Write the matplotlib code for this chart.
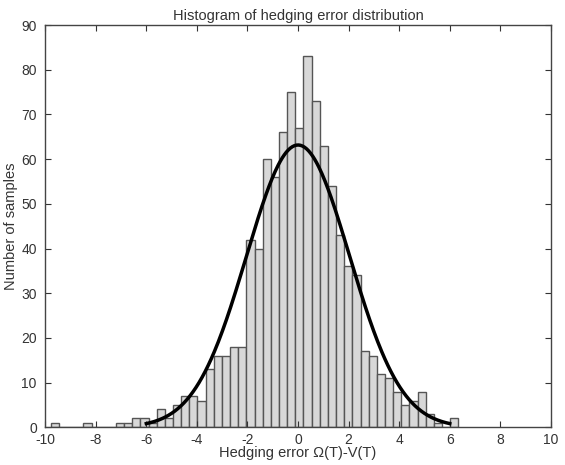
import matplotlib
matplotlib.use("Agg")
import matplotlib.pyplot as plt
import numpy as np

plt.rcParams["font.family"] = ["Liberation Sans", "DejaVu Sans"]
plt.rcParams["axes.unicode_minus"] = False

# histogram: 50 equal bins between the smallest and largest sample
BIN_LO = -9.78
BIN_HI = 6.34
COUNTS = [1, 0, 0, 0, 1, 0, 0, 0, 1, 1,
          2, 2, 1, 4, 2, 5, 7, 7, 6, 13,
          16, 16, 18, 18, 42, 40, 60, 56, 66, 75,
          67, 83, 73, 63, 54, 43, 36, 34, 17, 16,
          12, 11, 8, 5, 6, 8, 3, 1, 0, 2]

# normal fit drawn over the histogram
FIT_MEAN = 0.0
FIT_STD = 2.04
FIT_RANGE = (-6.0, 6.0)

edges = np.linspace(BIN_LO, BIN_HI, len(COUNTS) + 1)
width = edges[1] - edges[0]
n_total = sum(COUNTS)

fig = plt.figure(figsize=(5.65, 4.65), dpi=100)
ax = fig.add_axes([0.08, 0.081, 0.895, 0.865])

ax.bar(edges[:-1], COUNTS, width=width, align="edge",
       color="#d8d8d8", edgecolor="#555555", linewidth=1.0)

xs = np.linspace(FIT_RANGE[0], FIT_RANGE[1], 300)
pdf = np.exp(-0.5 * ((xs - FIT_MEAN) / FIT_STD) ** 2) / (FIT_STD * np.sqrt(2 * np.pi))
ax.plot(xs, n_total * width * pdf, color="black", linewidth=2.5)

ax.set_xlim(-10, 10)
ax.set_ylim(0, 90)
ax.set_xticks(np.arange(-10, 11, 2))
ax.set_yticks(np.arange(0, 91, 10))
ax.tick_params(direction="in", top=True, right=True, length=4,
               labelsize=10, colors="#333333")
ax.tick_params(axis="y", pad=6)
ax.tick_params(axis="x", pad=4)
for s in ax.spines.values():
    s.set_color("#444444")
    s.set_linewidth(1.0)

ax.set_title("Histogram of hedging error distribution", fontsize=10.5,
             color="#333333", pad=4)
ax.set_xlabel("Hedging error \u03a9(T)-V(T)", fontsize=10.5, color="#333333", labelpad=-1)
ax.set_ylabel("Number of samples", fontsize=10.5, color="#333333", labelpad=2)

fig.savefig("out.png", dpi=100)
